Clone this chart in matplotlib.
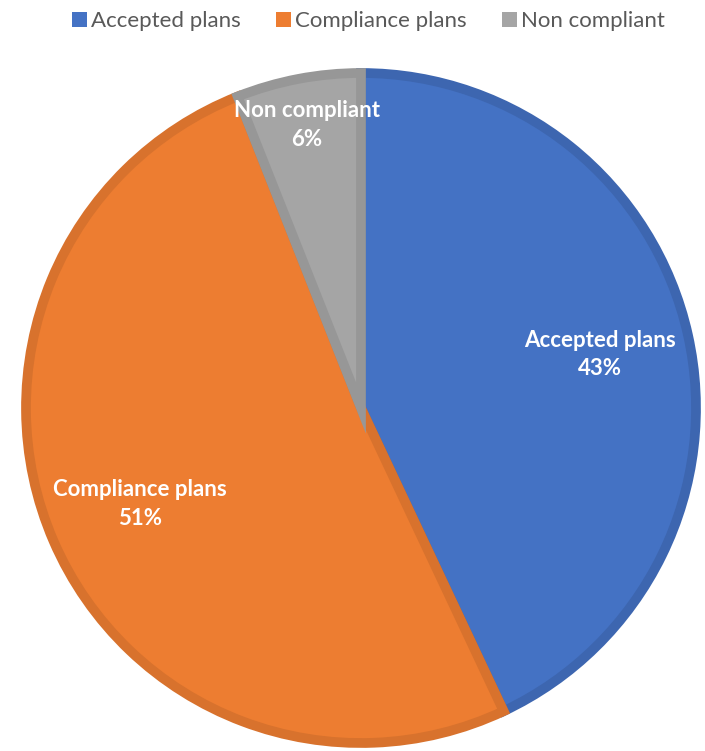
import numpy as np
import matplotlib.pyplot as plt
from matplotlib.patches import Patch

labels = ["Accepted plans", "Compliance plans", "Non compliant"]
values = [43, 51, 6]
colors = ["#4472C4", "#ED7D31", "#A5A5A5"]
edges = ["#3D66B0", "#D8722D", "#979797"]
label_dist = [0.73, 0.72, 0.86]

plt.rcParams['font.family'] = ['Lato', 'DejaVu Sans']

fig = plt.figure(figsize=(7.05, 7.51), dpi=100)
ax = fig.add_axes([0, 0, 1, 1])

cx, cy, r = 361, 751 - 408, 335
wedges, _ = ax.pie(values, colors=colors, startangle=90, counterclock=False,
                   center=(cx, cy), radius=r, frame=True,
                   wedgeprops=dict(linewidth=7, joinstyle="miter"))
for w, ec in zip(wedges, edges):
    w.set_edgecolor(ec)
ax.set_xlim(0, 705)
ax.set_ylim(0, 751)
ax.axis("off")

for w, lab, v, d in zip(wedges, labels, values, label_dist):
    ang = np.deg2rad((w.theta1 + w.theta2) / 2)
    x = cx + d * r * np.cos(ang)
    y = cy + d * r * np.sin(ang)
    ax.text(x, y, f"{lab}\n{v}%", ha="center", va="center", color="white",
            fontsize=16, fontweight="bold", linespacing=1.45)

handles = [Patch(facecolor=c, edgecolor="none") for c in colors]
fig.legend(handles, labels, loc="upper center", bbox_to_anchor=(0.523, 1.012),
           ncol=3, frameon=False, fontsize=16, handlelength=0.65,
           handleheight=0.65, handletextpad=0.2, columnspacing=1.6,
           labelcolor="#595959")

fig.savefig("out.png", dpi=100)
